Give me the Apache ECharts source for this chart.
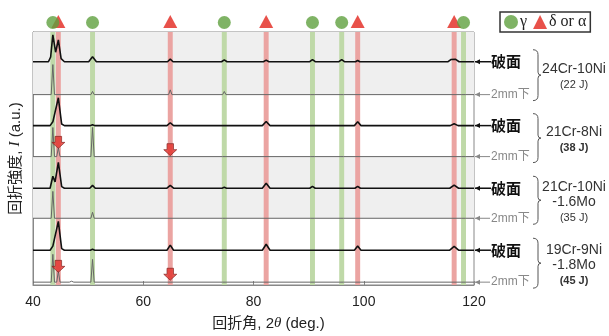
<!DOCTYPE html>
<html><head><meta charset="utf-8">
<script src="https://cdn.jsdelivr.net/npm/echarts@6/dist/echarts.min.js"></script>
<style>html,body{margin:0;padding:0;background:#fff}#c{width:609px;height:336px}</style>
</head><body><div id="c"></div>
<script>
// ---- data (2θ in degrees, intensity in arbitrary units) ----
const xTicks = [40, 60, 80, 100, 120];
const gammaPeaks = [43.6, 50.8, 74.7, 90.7, 96.0, 118.1];
const alphaPeaks = [44.6, 64.9, 82.3, 98.9, 116.4];
const traceNames = ['24Cr-10Ni 破面','24Cr-10Ni 2mm下','21Cr-8Ni 破面','21Cr-8Ni 2mm下','21Cr-10Ni-1.6Mo 破面','21Cr-10Ni-1.6Mo 2mm下','19Cr-9Ni-1.8Mo 破面','19Cr-9Ni-1.8Mo 2mm下'];
const sampleNames = [['24Cr-10Ni'],['21Cr-8Ni'],['21Cr-10Ni','-1.6Mo'],['19Cr-9Ni','-1.8Mo']];
const energies = ['(22 J)','(38 J)','(35 J)','(45 J)'];

const t24F = [[40,0],[42.8,0],[43.2,0.15],[43.6,0.85],[44.1,0.3],[44.6,0.69],[45.1,0.1],[45.7,0],[50.1,0],[50.8,0.16],[51.5,0],[64.4,0],[64.9,0.08],[65.4,0],[74.2,0],[74.7,0.06],[75.2,0],[81.8,0],[82.3,0.05],[82.8,0],[90.2,0],[90.7,0.07],[91.2,0],[95.5,0],[96.0,0.07],[96.5,0],[98.5,0],[98.9,0.04],[99.3,0],[115.3,0],[115.8,0.07],[116.6,0.08],[117.3,0],[120,0]];
const t24S = [[40,0],[43.3,0],[43.6,0.95],[43.9,0],[50.5,0],[50.8,0.1],[51.1,0],[64.6,0],[64.9,0.15],[65.2,0],[74.4,0],[74.7,0.1],[75.0,0],[90.4,0],[90.7,0.04],[91.0,0],[95.7,0],[96.0,0.04],[96.3,0],[117.8,0],[118.1,0.04],[118.4,0],[120,0]];
const t21_8F = [[40,0],[43.1,0],[43.6,0.12],[43.9,0.08],[44.6,0.88],[45.2,0.05],[45.7,0],[50.4,0],[50.8,0.03],[51.2,0],[64.3,0],[64.9,0.09],[65.5,0],[81.6,0],[82.3,0.13],[83.0,0],[98.3,0],[98.9,0.12],[99.5,0],[115.7,0],[116.4,0.06],[117.1,0],[120,0]];
const t21_8S = [[40,0],[43.3,0],[43.6,0.92],[43.9,0],[44.3,0],[44.6,0.28],[44.9,0],[50.5,0],[50.8,0.92],[51.1,0],[64.6,0],[64.9,0.06],[65.2,0],[74.4,0],[74.7,0.06],[75.0,0],[90.4,0],[90.7,0.03],[91.0,0],[95.7,0],[96.0,0.03],[96.3,0],[117.8,0],[118.1,0.03],[118.4,0],[120,0]];
const t21_10F = [[40,0],[43.1,0],[43.6,0.38],[44.0,0.2],[44.6,0.82],[45.2,0.05],[45.7,0],[50.3,0],[50.8,0.09],[51.3,0],[64.3,0],[64.9,0.09],[65.5,0],[74.3,0],[74.7,0.03],[75.1,0],[81.6,0],[82.3,0.16],[83.0,0],[90.2,0],[90.7,0.06],[91.2,0],[98.4,0],[98.9,0.06],[99.4,0],[115.6,0],[116.4,0.1],[117.2,0],[120,0]];
const t21_10S = [[40,0],[43.3,0],[43.6,0.85],[43.9,0],[50.5,0],[50.8,0.19],[51.1,0],[74.4,0],[74.7,0.03],[75.0,0],[90.4,0],[90.7,0.04],[91.0,0],[95.7,0],[96.0,0.04],[96.3,0],[117.8,0],[118.1,0.04],[118.4,0],[120,0]];
const t19F = [[40,0],[43.1,0],[43.6,0.13],[43.9,0.09],[44.6,0.91],[45.2,0.05],[45.7,0],[50.4,0],[50.8,0.03],[51.2,0],[64.3,0],[64.9,0.16],[65.5,0],[81.6,0],[82.3,0.19],[83.0,0],[98.3,0],[98.9,0.13],[99.5,0],[115.6,0],[116.4,0.12],[117.2,0],[120,0]];
const t19S = [[40,0],[43.3,0],[43.6,0.88],[43.9,0],[44.3,0],[44.6,0.35],[44.9,0],[46.6,0],[47.0,0.03],[47.4,0],[50.5,0],[50.8,0.72],[51.1,0],[74.4,0],[74.7,0.03],[75.0,0],[90.4,0],[90.7,0.06],[91.0,0],[95.7,0],[96.0,0.06],[96.3,0],[117.8,0],[118.1,0.06],[118.4,0],[120,0]];
const traces = [t24F, t24S, t21_8F, t21_8S, t21_10F, t21_10S, t19F, t19S];
// red arrows marking alpha peaks in 2mm traces: [2θ, height above that trace's baseline]
const arrows21_8 = [[44.6, 0.45], [64.9, 0.22]];
const arrows19 = [[44.6, 0.5], [64.9, 0.25]];

// ---- layout ----
const offsets = [7.06, 6.02, 5.04, 4.06, 3.06, 2.11, 1.10, 0.09];
const G = {left: 33, right: 135, top: 32, bottom: 50};

const chart = echarts.init(document.getElementById('c'), null, {renderer: 'canvas'});
const series = [];

series.push({
  type: 'line', xAxisIndex: 0, yAxisIndex: 0, data: [], z: 1, silent: true,
  markArea: {silent: true, itemStyle: {color: '#efefef'},
    data: [[{yAxis: offsets[1]}, {yAxis: 8}], [{yAxis: offsets[5]}, {yAxis: offsets[3]}]]}
});
series.push({
  type: 'line', xAxisIndex: 0, yAxisIndex: 0, data: [], z: 2, silent: true,
  markArea: {silent: true, itemStyle: {color: '#bfd9a8'},
    data: gammaPeaks.map(p => [{xAxis: p - 0.45}, {xAxis: p + 0.45}])}
});
series.push({
  type: 'line', xAxisIndex: 0, yAxisIndex: 0, data: [], z: 2, silent: true,
  markArea: {silent: true, itemStyle: {color: '#eba4a2'},
    data: alphaPeaks.map(p => [{xAxis: p - 0.45}, {xAxis: p + 0.45}])}
});

traces.forEach((t, i) => {
  const fracture = i % 2 === 0;
  series.push({
    name: traceNames[i], type: 'line', xAxisIndex: 0, yAxisIndex: 0, z: 5,
    showSymbol: false, symbol: 'none',
    lineStyle: {color: fracture ? '#111' : '#666', width: fracture ? 1.6 : 1},
    data: t.map(([x, y]) => [x, y + offsets[i]])
  });
});

const arrowPath = 'path://M3,0 L9,0 L9,6 L12,6 L6,12 L0,6 L3,6 Z';
series.push({
  type: 'scatter', xAxisIndex: 0, yAxisIndex: 0, z: 8, symbol: arrowPath, symbolSize: [13, 12],
  itemStyle: {color: '#e2302a', borderColor: '#7a1b18', borderWidth: 0.8},
  data: arrows21_8.map(([x, y]) => [x, y + offsets[3]]).concat(arrows19.map(([x, y]) => [x, y + offsets[7]]))
});

series.push({
  name: 'γ', type: 'scatter', xAxisIndex: 1, yAxisIndex: 1, symbol: 'circle', symbolSize: 13,
  itemStyle: {color: '#5fa03f'}, data: gammaPeaks.map(p => [p, 0.5]), z: 6
});
series.push({
  name: 'δ or α', type: 'scatter', xAxisIndex: 1, yAxisIndex: 1, symbol: 'triangle', symbolSize: [14, 13],
  itemStyle: {color: '#e2261d'}, data: alphaPeaks.map(p => [p, 0.55]), z: 5
});

chart.setOption({
  animation: false,
  grid: [
    {left: G.left, right: G.right, top: G.top, bottom: G.bottom, show: true, borderColor: '#888', borderWidth: 1, backgroundColor: '#fff'},
    {left: G.left, right: G.right, top: 13, height: 19, show: false}
  ],
  xAxis: [
    {gridIndex: 0, type: 'value', min: 40, max: 120, interval: 20,
     name: '{a|回折角, 2}{i|θ}{a| (deg.)}', nameLocation: 'middle', nameGap: 31,
     nameTextStyle: {padding: [0, 0, 0, 30], rich: {a: {fontSize: 15, color: '#222', fontFamily: 'Liberation Sans, Noto Sans CJK JP'}, i: {fontSize: 15, color: '#222', fontStyle: 'italic', fontFamily: 'Liberation Serif'}}},
     axisLine: {show: true, lineStyle: {color: '#888'}}, axisTick: {inside: true, length: 4, lineStyle: {color: '#888'}},
     axisLabel: {fontSize: 14, color: '#222', margin: 10, fontFamily: 'Liberation Sans'}, splitLine: {show: false}},
    {gridIndex: 1, type: 'value', min: 40, max: 120, show: false}
  ],
  yAxis: [
    {gridIndex: 0, type: 'value', min: 0, max: 8,
     name: '{a|回折強度, }{i|I}{a| (a.u.)}', nameLocation: 'middle', nameGap: 10, nameRotate: 90,
     nameTextStyle: {rich: {a: {fontSize: 15, color: '#222', fontFamily: 'Liberation Sans, Noto Sans CJK JP'}, i: {fontSize: 15, color: '#222', fontStyle: 'italic', fontFamily: 'Liberation Serif'}}},
     axisLine: {show: true, lineStyle: {color: '#888'}}, axisTick: {show: false}, axisLabel: {show: false}, splitLine: {show: false}},
    {gridIndex: 1, type: 'value', min: 0, max: 1, show: false}
  ],
  legend: {
    data: ['γ', 'δ or α'], left: 500, top: 12, orient: 'horizontal',
    borderColor: '#333', borderWidth: 1.5, padding: [2, 4, 2, 4], itemGap: 6,
    itemWidth: 14, itemHeight: 14,
    textStyle: {fontSize: 16, color: '#222', fontFamily: 'Liberation Serif', padding: [0, 0, 0, -3]}
  },
  series: series
});

const px = (x, y) => chart.convertToPixel({gridIndex: 0}, [x, y]);
const xr = px(120, 0)[0];
const graphics = [];
const bs = {stroke: '#555', lineWidth: 1, fill: null};
for (let s = 0; s < 4; s++) {
  const yF = px(120, offsets[2 * s])[1];
  const yS = px(120, offsets[2 * s + 1])[1];
  graphics.push({type: 'line', shape: {x1: xr + 1, y1: yF, x2: xr + 17, y2: yF}, style: {stroke: '#111', lineWidth: 1.5}});
  graphics.push({type: 'polygon', shape: {points: [[xr + 1, yF], [xr + 6, yF - 2.5], [xr + 6, yF + 2.5]]}, style: {fill: '#111'}});
  graphics.push({type: 'text', x: xr + 17, y: yF, style: {text: '破面', fontSize: 15, fontWeight: 'bold', fill: '#111', verticalAlign: 'middle', fontFamily: 'Noto Sans CJK JP'}});
  graphics.push({type: 'line', shape: {x1: xr + 1, y1: yS, x2: xr + 16, y2: yS}, style: {stroke: '#888', lineWidth: 1}});
  graphics.push({type: 'polygon', shape: {points: [[xr + 1, yS], [xr + 6, yS - 2.5], [xr + 6, yS + 2.5]]}, style: {fill: '#888'}});
  graphics.push({type: 'text', x: xr + 17, y: yS, style: {text: '2mm下', fontSize: 12, fill: '#888', verticalAlign: 'middle', fontFamily: 'Liberation Sans, Noto Sans CJK JP'}});
  // bracket
  const y1 = yF - 12, y2 = yS + 6, ym = (y1 + y2) / 2, bx = 533, vx = bx + 5;
  graphics.push({type: 'bezierCurve', shape: {x1: bx, y1: y1, cpx1: vx, cpy1: y1, x2: vx, y2: y1 + 5}, style: bs});
  graphics.push({type: 'line', shape: {x1: vx, y1: y1 + 5, x2: vx, y2: ym - 3}, style: bs});
  graphics.push({type: 'bezierCurve', shape: {x1: vx, y1: ym - 3, cpx1: vx, cpy1: ym, x2: vx + 3, y2: ym}, style: bs});
  graphics.push({type: 'bezierCurve', shape: {x1: vx + 3, y1: ym, cpx1: vx, cpy1: ym, x2: vx, y2: ym + 3}, style: bs});
  graphics.push({type: 'line', shape: {x1: vx, y1: ym + 3, x2: vx, y2: y2 - 5}, style: bs});
  graphics.push({type: 'bezierCurve', shape: {x1: vx, y1: y2 - 5, cpx1: vx, cpy1: y2, x2: bx, y2: y2}, style: bs});
  const lines = sampleNames[s];
  const top = ym - 6 - (lines.length - 1) * 7;
  lines.forEach((t, k) => graphics.push({type: 'text', x: 574, y: top + k * 15, style: {text: t, fontSize: 14, fill: '#333', align: 'center', verticalAlign: 'middle', fontFamily: 'Liberation Sans'}}));
  graphics.push({type: 'text', x: 574, y: top + (lines.length - 1) * 15 + 16, style: {text: energies[s], fontSize: 11, fill: '#333', fontWeight: (s === 1 || s === 3) ? 'bold' : 'normal', align: 'center', verticalAlign: 'middle', fontFamily: 'Liberation Sans'}});
}
chart.setOption({graphic: graphics});
</script></body></html>
